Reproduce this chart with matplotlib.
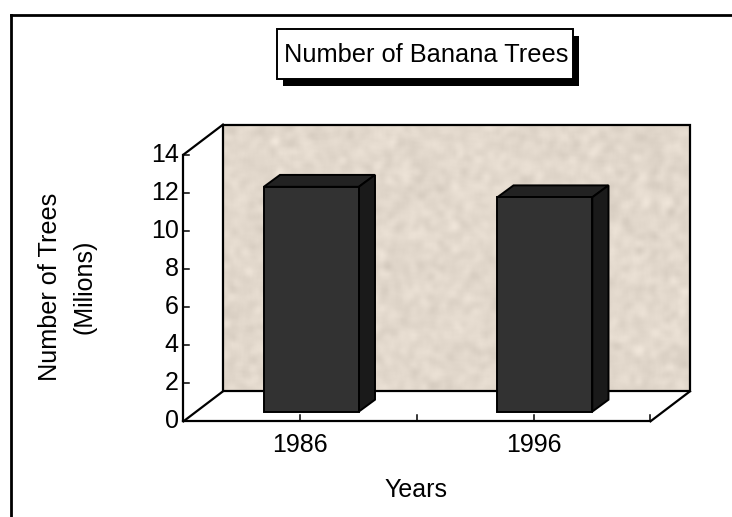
import numpy as np
import matplotlib
matplotlib.use('Agg')
import matplotlib.pyplot as plt
from matplotlib.patches import Polygon, Rectangle

years = ['1986', '1996']
trees = [11.8, 11.25]
y_ticks = [0, 2, 4, 6, 8, 10, 12, 14]

W, H = 732, 517
plt.rcParams['font.family'] = ['Liberation Sans', 'DejaVu Sans']

fig = plt.figure(figsize=(W / 100, H / 100), dpi=100)
# front plane of the box: x 184-651, y 154.6-421.3 in pixels
ax = fig.add_axes([183.5 / W, 1 - 421.3 / H, 467 / W, 266.7 / H])
ax.set_xlim(0, 2)
ax.set_ylim(0, 14)
ax.axis('off')

# depth of the box in data units
dx = 39.5 / 233.5
dy = 30 / 19.05

# wall texture
rng = np.random.default_rng(3)
noise = rng.normal(size=(266, 468))
kernel = np.ones(7) / 7
for i in range(2):
    noise = np.apply_along_axis(lambda r: np.convolve(r, kernel, mode='same'), 0, noise)
    noise = np.apply_along_axis(lambda r: np.convolve(r, kernel, mode='same'), 1, noise)
noise = noise / noise.std()
base = np.array([226, 216, 204]) / 255
tex = np.clip(base[None, None, :] + noise[:, :, None] * 0.014, 0, 1)
ax.imshow(tex, extent=(dx, 2 + dx, dy, 14 + dy), aspect='auto', zorder=1, clip_on=False,
          interpolation='bilinear')
ax.set_xlim(0, 2)
ax.set_ylim(0, 14)
ax.add_patch(Rectangle((dx, dy), 2, 14, fill=False, ec='black', lw=1.6, zorder=2, clip_on=False))

# floor and side edges
for x0 in [0, 2]:
    ax.plot([x0, x0 + dx], [0, dy], color='black', lw=1.6, zorder=2, clip_on=False)
ax.plot([0, dx], [14, 14 + dy], color='black', lw=1.6, zorder=2, clip_on=False)

# axes
ax.plot([0, 0], [0, 14], color='black', lw=1.6, zorder=3, clip_on=False)
ax.plot([0, 2], [0, 0], color='black', lw=1.6, zorder=3, clip_on=False)
for v in y_ticks:
    ax.plot([0, 0.025], [v, v], color='black', lw=1.1, zorder=3, clip_on=False)
    ax.text(-0.02, v, str(v), ha='right', va='center', fontsize=18, zorder=5)
for t in [0.5, 1, 1.5, 2]:
    ax.plot([t, t], [0, 0.35], color='black', lw=1.1, zorder=3, clip_on=False)

# bars, x and y depth fractions read separately
bar_w = 95 / 233.5
fx1, fx2 = 0.28, 0.69
fy1, fy2 = 0.323, 0.72
for i, (lab, val) in enumerate(zip(years, trees)):
    c = i + 0.5
    x0, x1 = c - bar_w / 2, c + bar_w / 2
    ax.text(c, -1.25, lab, ha='center', va='center', fontsize=18)
    ox1, ox2 = fx1 * dx, fx2 * dx
    oy1, oy2 = fy1 * dy, fy2 * dy
    ax.add_patch(Polygon([(x0 + ox1, val + oy1), (x0 + ox2, val + oy2), (x1 + ox2, val + oy2), (x1 + ox1, val + oy1)],
                         fc='#222222', ec='black', lw=1.4, zorder=4, clip_on=False))
    ax.add_patch(Polygon([(x1 + ox1, oy1), (x1 + ox2, oy2), (x1 + ox2, val + oy2), (x1 + ox1, val + oy1)],
                         fc='#1a1a1a', ec='black', lw=1.4, zorder=4, clip_on=False))
    ax.add_patch(Rectangle((x0 + ox1, oy1), x1 - x0, val, fc='#323232', ec='black', lw=1.4,
                           zorder=4, clip_on=False))

# titles and labels
fig.text(50 / W, 1 - 287 / H, 'Number of Trees', rotation=90, ha='center', va='center', fontsize=18.2)
fig.text(84 / W, 1 - 287 / H, '(Milions)', rotation=90, ha='center', va='center', fontsize=18)
fig.text(416 / W, 1 - 490 / H, 'Years', ha='center', va='center', fontsize=18)

# title box with drop shadow
fig.patches.append(Rectangle((283 / W, 1 - 86 / H), 296 / W, 50 / H, transform=fig.transFigure,
                             fc='black', ec='black', lw=0))
fig.patches.append(Rectangle((277 / W, 1 - 79.3 / H), 296 / W, 50 / H, transform=fig.transFigure,
                             fc='white', ec='black', lw=1.4))
fig.text(426.5 / W, 1 - 55.5 / H, 'Number of Banana Trees', ha='center', va='center', fontsize=18.3)

# outer frame, only left and top are in the picture
fig.add_artist(plt.Line2D([11 / W, 11 / W], [0, 1 - 15 / H], color='black', lw=2, transform=fig.transFigure))
fig.add_artist(plt.Line2D([11 / W, 1], [1 - 15 / H, 1 - 15 / H], color='black', lw=2,
                          transform=fig.transFigure))

fig.savefig('out.png', dpi=100)
